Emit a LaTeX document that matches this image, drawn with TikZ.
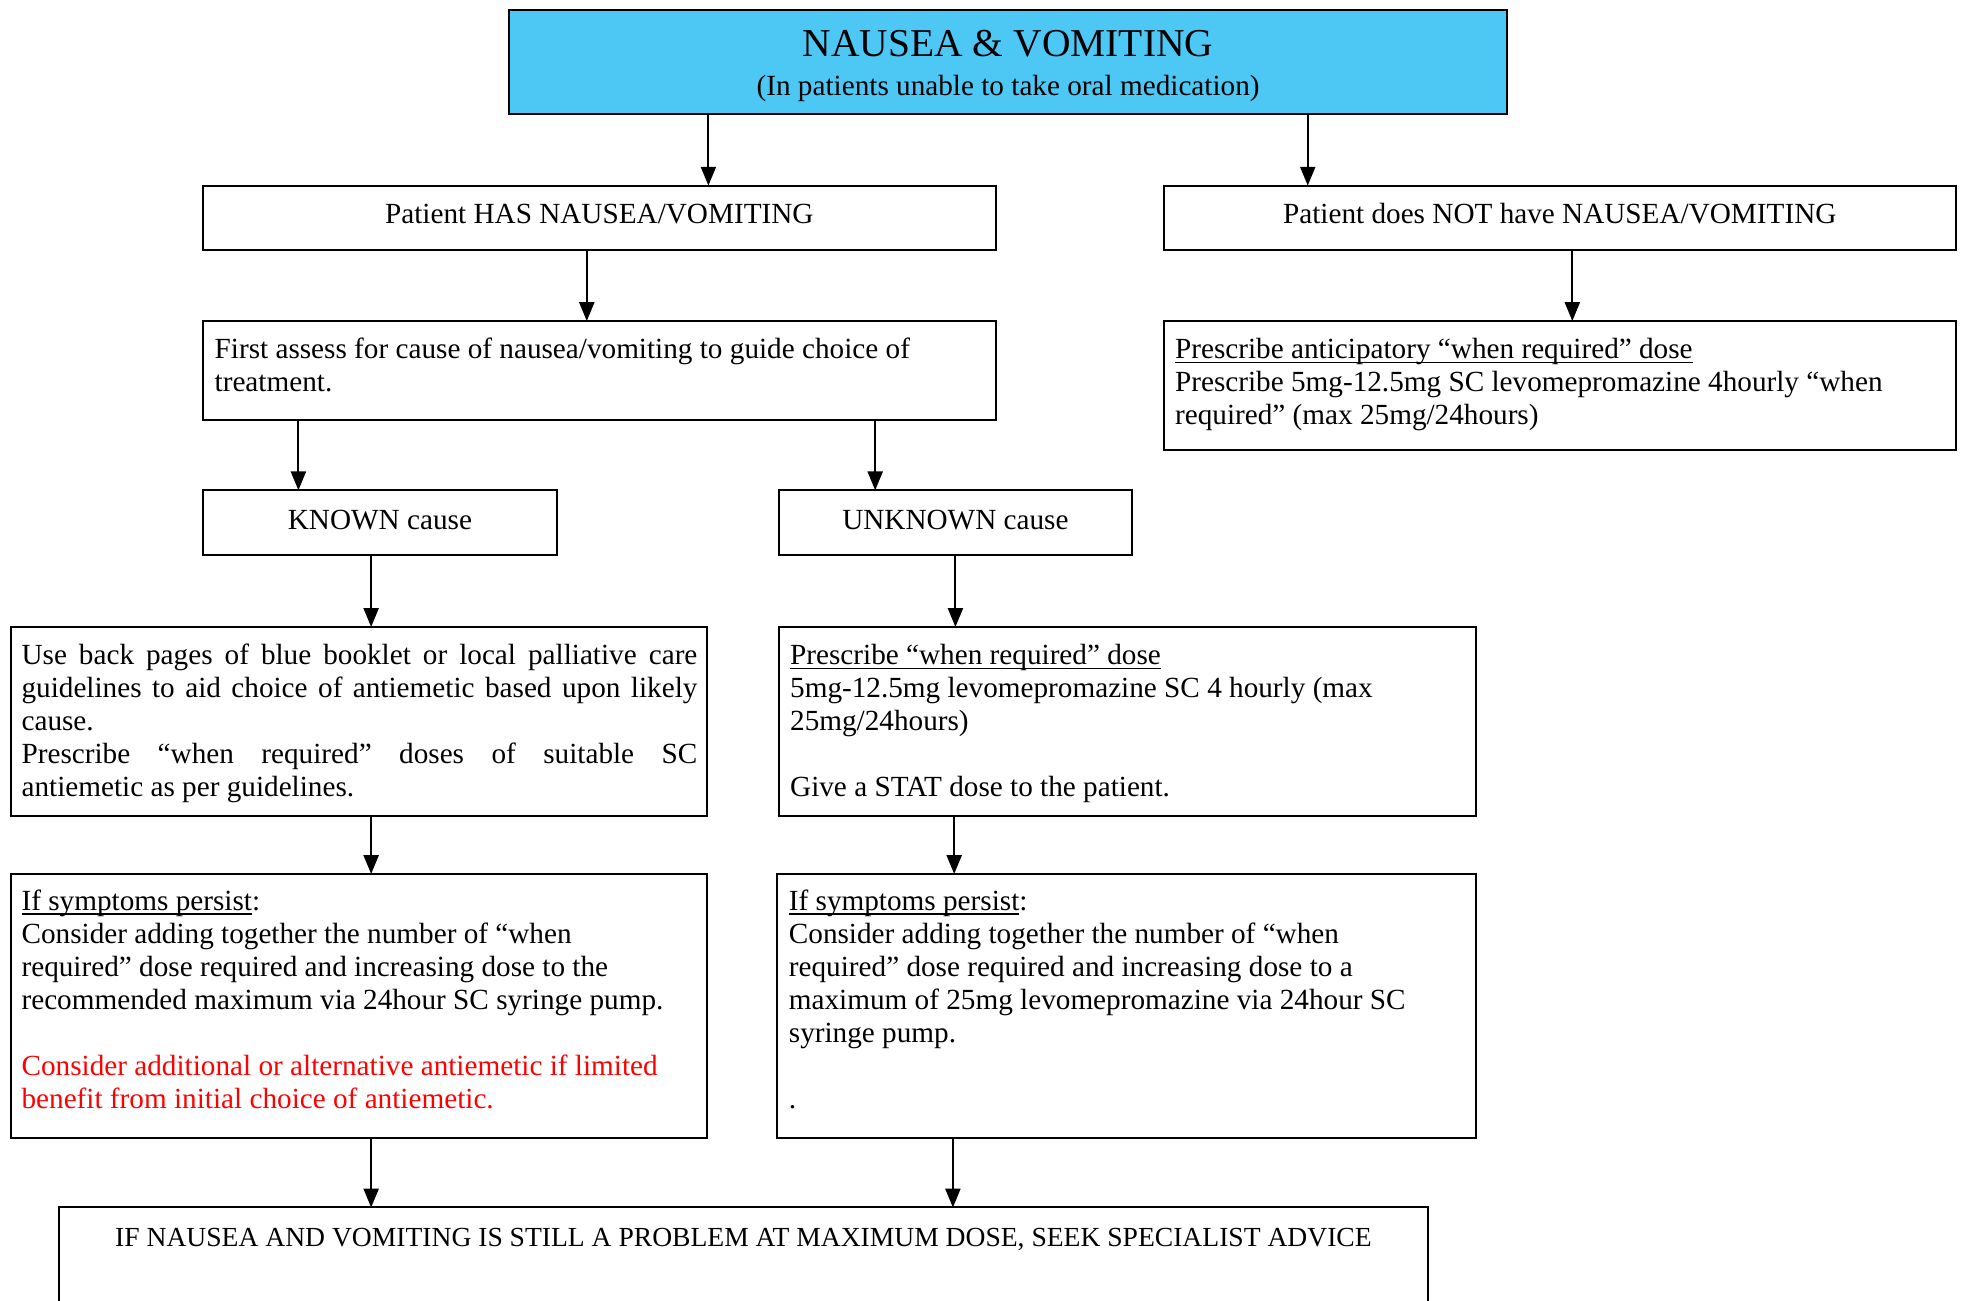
\documentclass[tikz,border=0pt]{standalone}
\usepackage{fontspec}
\setmainfont{Liberation Serif}
\usetikzlibrary{arrows.meta}
\definecolor{topblue}{RGB}{77,199,244}
\definecolor{redtxt}{RGB}{255,0,0}
\newcommand\myul[1]{\setbox0\hbox{#1}\rlap{\rule[-3.5pt]{\wd0}{1.2pt}}\box0}
\newcommand\fst{\rule{0pt}{19pt}}
\newcommand\bx[5]{\node[boxst, minimum width={(#4-#2)*1pt}, minimum height={(#5-#3)*1pt}] (#1) at ({(#2+#4)/2},{(#3+#5)/2}) {};}
\newcommand\jl[1]{\makebox[539pt][s]{#1}}
\begin{document}
\begin{tikzpicture}[x=1pt,y=-1pt,
  boxst/.style={draw, line width=1.6pt, inner sep=0pt, outer sep=0pt},
  body/.style={inner sep=0pt, font=\fontsize{23.3}{26.3}\selectfont},
  txt/.style={body, anchor=north west, align=left},
  arr/.style={-{Triangle[length=15pt,width=12pt]}, line width=1.6pt}]
\useasboundingbox (0,0) rectangle (1568,1037);
\clip (0,0) rectangle (1568,1037);
% boxes
\node[boxst, fill=topblue, minimum width=796pt, minimum height=83pt] (top) at (804,49.5) {};
\bx{has}{162}{148}{794}{199}
\bx{not}{928}{148}{1560}{199}
\bx{first}{162}{256}{794}{335}
\bx{antic}{928}{256}{1560}{359}
\bx{known}{162}{391}{444}{443}
\bx{unknown}{621}{391}{903}{443}
\bx{useback}{9}{500}{564}{651}
\bx{presc}{621}{500}{1177}{651}
\bx{persl}{9}{697}{564}{908}
\bx{persr}{620}{697}{1177}{908}
\bx{bottom}{47}{963}{1139}{1070}
% texts
\node[inner sep=0pt, font=\fontsize{31.5}{36}\selectfont, anchor=base] (t1) at (804,45) {NAUSEA \& VOMITING};
\node[body, anchor=base] (t2) at (804,76) {(In patients unable to take oral medication)};
\node[body, anchor=base] (thas) at (478,178) {Patient HAS NAUSEA/VOMITING};
\node[body, anchor=base] (tnot) at (1244,178) {Patient does NOT have NAUSEA/VOMITING};
\node[txt] (tfirst) at (171,267) {\fst First assess for cause of nausea/vomiting to guide choice of\\treatment.};
\node[txt] (tantic) at (937,267) {\fst\myul{Prescribe anticipatory “when required” dose}\\Prescribe 5mg-12.5mg SC levomepromazine 4hourly “when\\required” (max 25mg/24hours)};
\node[body, anchor=base] (tknown) at (303,422) {KNOWN cause};
\node[body, anchor=base] (tunknown) at (762,422) {UNKNOWN cause};
\node[txt] (tuse) at (17,511) {\fst\jl{Use back pages of blue booklet or local palliative care}\\\jl{guidelines to aid choice of antiemetic based upon likely}\\cause.\\\jl{Prescribe “when required” doses of suitable SC}\\antiemetic as per guidelines.};
\node[txt] (tpresc) at (630,511) {\fst\myul{Prescribe “when required” dose}\\5mg-12.5mg levomepromazine SC 4 hourly (max\\25mg/24hours)\\[26.3pt]Give a STAT dose to the patient.};
\node[txt] (tpersl) at (17,707) {\fst\myul{If symptoms persist}:\\Consider adding together the number of “when\\required” dose required and increasing dose to the\\recommended maximum via 24hour SC syringe pump.\\[26.3pt]\textcolor{redtxt}{Consider additional or alternative antiemetic if limited}\\\textcolor{redtxt}{benefit from initial choice of antiemetic.}};
\node[txt] (tpersr) at (629,707) {\fst\myul{If symptoms persist}:\\Consider adding together the number of “when\\required” dose required and increasing dose to a\\maximum of 25mg levomepromazine via 24hour SC\\syringe pump.\\[26.3pt].};
\node[inner sep=0pt, font=\fontsize{22}{26}\selectfont, anchor=base] (tbottom) at (593,994) {IF NAUSEA AND VOMITING IS STILL A PROBLEM AT MAXIMUM DOSE, SEEK SPECIALIST ADVICE};
% connectors
\draw[arr] ([xshift=159pt]top.south west) -- ([xshift=403pt]has.north west);
\draw[arr] ([xshift=637pt]top.south west) -- ([xshift=115pt]not.north west);
\draw[arr] ([xshift=306pt]has.south west) -- ([xshift=306pt]first.north west);
\draw[arr] ([xshift=326pt]not.south west) -- ([xshift=326pt]antic.north west);
\draw[arr] ([xshift=76pt]first.south west) -- ([xshift=76pt]known.north west);
\draw[arr] ([xshift=536pt]first.south west) -- ([xshift=77pt]unknown.north west);
\draw[arr] ([xshift=134pt]known.south west) -- ([xshift=287pt]useback.north west);
\draw[arr] ([xshift=141pt]unknown.south west) -- ([xshift=141pt]presc.north west);
\draw[arr] ([xshift=287pt]useback.south west) -- ([xshift=287pt]persl.north west);
\draw[arr] ([xshift=140pt]presc.south west) -- ([xshift=141pt]persr.north west);
\draw[arr] ([xshift=287pt]persl.south west) -- ([xshift=249pt]bottom.north west);
\draw[arr] ([xshift=140pt]persr.south west) -- ([xshift=713pt]bottom.north west);
\end{tikzpicture}
\end{document}
